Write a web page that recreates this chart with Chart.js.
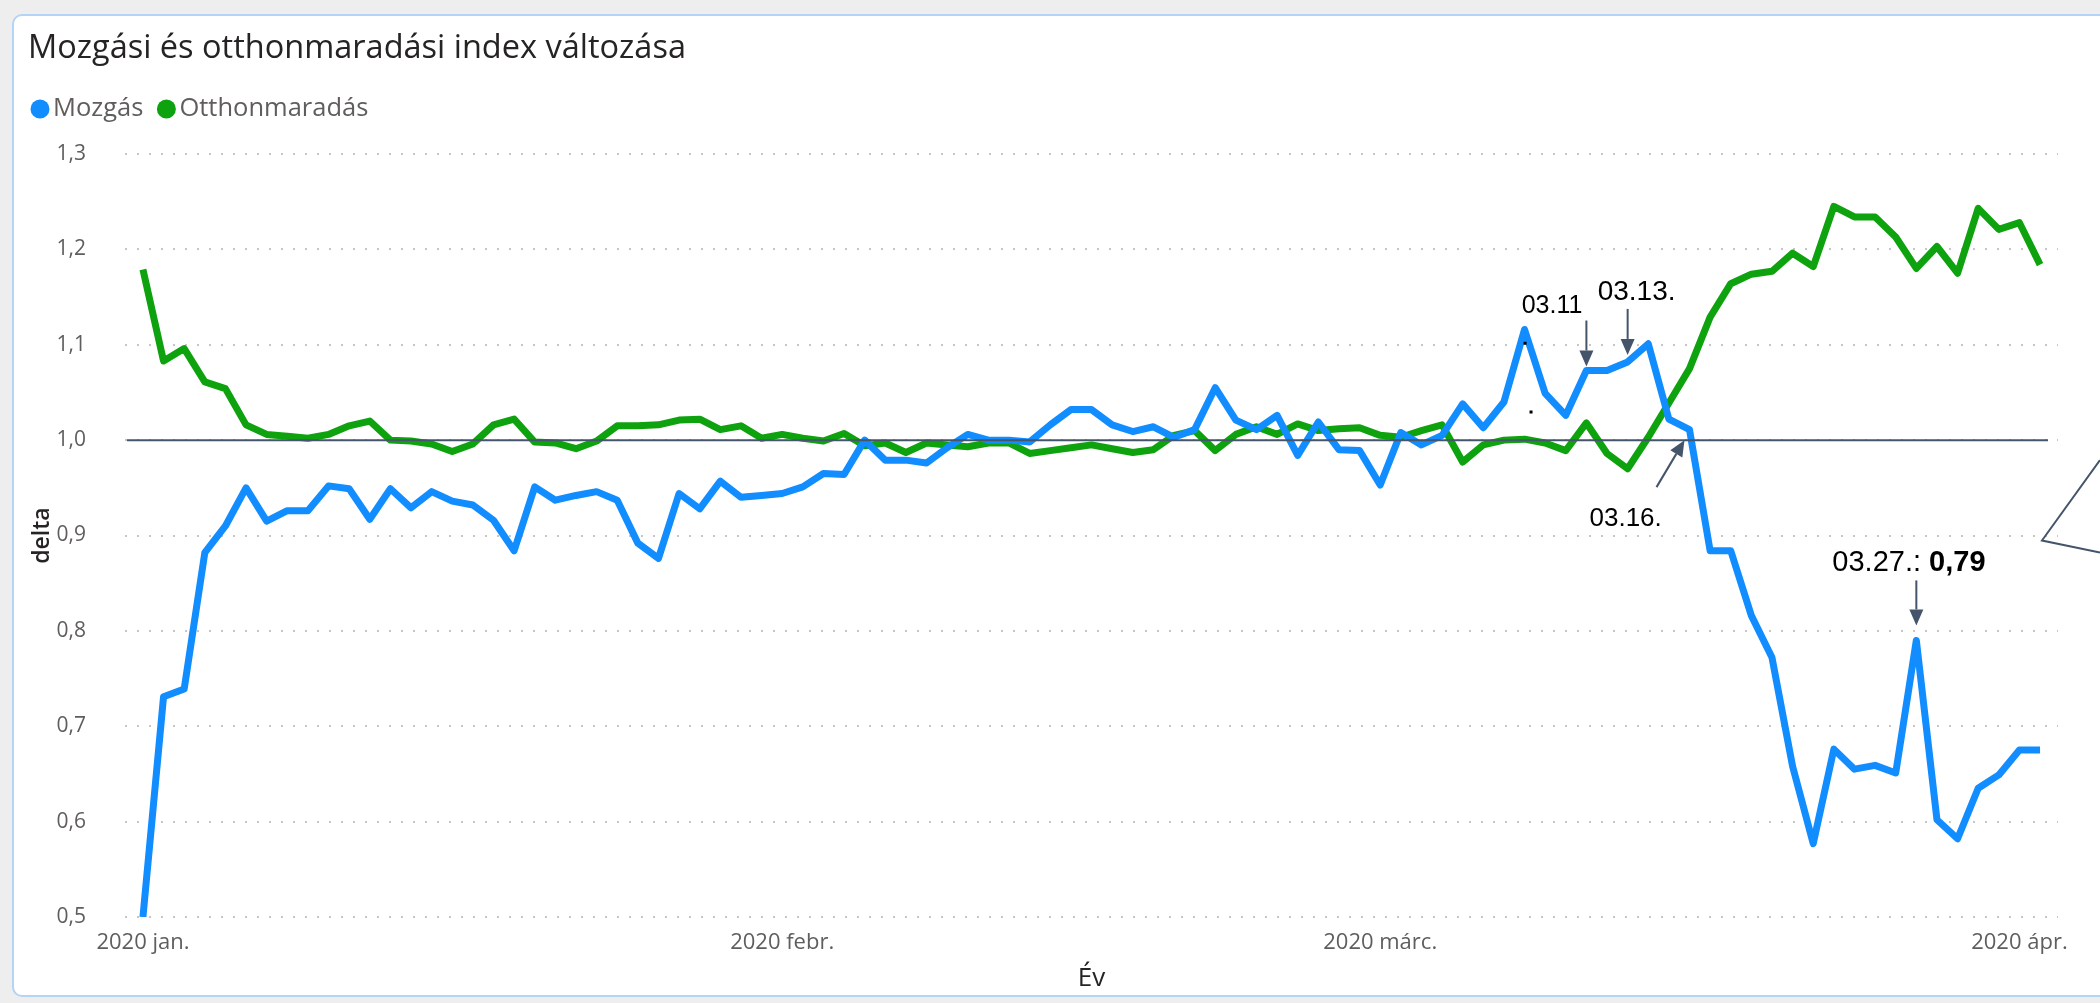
<!DOCTYPE html>
<html lang="hu">
<head>
<meta charset="utf-8">
<title>Mozgási és otthonmaradási index változása</title>
<script src="https://cdn.jsdelivr.net/npm/chart.js@4.4.1/dist/chart.umd.min.js"></script>
<style>
  html, body { margin: 0; padding: 0; background: #eeeeee; }
  body { width: 2100px; height: 1003px; position: relative; overflow: hidden; }
  .card {
    position: absolute; left: 12px; top: 14px; width: 2130px; height: 983px;
    background: #fff; border: 2px solid #b5d3f5; border-radius: 10px; box-sizing: border-box;
  }
  #chart { position: absolute; left: 0; top: 0; }
</style>
</head>
<body>
<div class="card"></div>
<canvas id="chart" width="2100" height="1003"></canvas>
<script>
// napi adatok 2020.01.01-tol 2020.04.02-ig
const honapok = ['2020 jan.', '2020 febr.', '2020 márc.', '2020 ápr.']
const honapHossz = [31, 29, 31, 2]

const mozgas = [
  0.500, 0.731, 0.739, 0.882, 0.910, 0.950, 0.915, 0.926, 0.926, 0.952,
  0.949, 0.917, 0.949, 0.929, 0.946, 0.936, 0.932, 0.916, 0.884, 0.951,
  0.937, 0.942, 0.946, 0.937, 0.892, 0.876, 0.944, 0.928, 0.957, 0.940,
  0.942, 0.944, 0.951, 0.965, 0.964, 1.000, 0.979, 0.979, 0.976, 0.992,
  1.006, 1.000, 1.000, 0.998, 1.016, 1.032, 1.032, 1.016, 1.009, 1.014,
  1.003, 1.011, 1.055, 1.021, 1.011, 1.026, 0.984, 1.019, 0.990, 0.989,
  0.953, 1.008, 0.995, 1.005, 1.038, 1.013, 1.040, 1.116, 1.049, 1.026,
  1.073, 1.073, 1.082, 1.101, 1.022, 1.011, 0.884, 0.884, 0.816, 0.772,
  0.658, 0.577, 0.676, 0.655, 0.659, 0.651, 0.790, 0.602, 0.582, 0.635,
  0.649, 0.675, 0.675
]

const otthon = [
  1.179, 1.083, 1.096, 1.061, 1.054, 1.016, 1.006, 1.004, 1.002, 1.006,
  1.015, 1.020, 1.000, 0.999, 0.996, 0.988, 0.996, 1.016, 1.022, 0.998,
  0.997, 0.991, 0.999, 1.015, 1.015, 1.016, 1.021, 1.022, 1.011, 1.015,
  1.002, 1.006, 1.002, 0.999, 1.007, 0.994, 0.997, 0.987, 0.997, 0.995,
  0.993, 0.997, 0.997, 0.986, 0.989, 0.992, 0.995, 0.991, 0.987, 0.990,
  1.005, 1.010, 0.989, 1.006, 1.014, 1.006, 1.017, 1.010, 1.012, 1.013,
  1.005, 1.003, 1.010, 1.016, 0.977, 0.995, 1.000, 1.001, 0.997, 0.989,
  1.018, 0.986, 0.970, 1.003, 1.039, 1.075, 1.129, 1.164, 1.174, 1.177,
  1.196, 1.182, 1.245, 1.234, 1.234, 1.213, 1.180, 1.203, 1.175, 1.243,
  1.221, 1.228, 1.184
]

const yTicks = [0.5, 0.6, 0.7, 0.8, 0.9, 1.0, 1.1, 1.2, 1.3]

// honapok elso napjanak sorszama
const honapKezdet = []
let nap = 0
honapHossz.forEach(h => { honapKezdet.push(nap); nap += h })

const toPoints = arr => arr.map((v, i) => ({ x: i, y: v }))

const fontUI = "'Segoe UI', 'Open Sans', sans-serif"
const fontNote = "'Liberation Sans', Arial, sans-serif"
const szurke = '#605e5c'
const sotet = '#252423'
const nyil = '#44546a'

const arrow = function (ctx, x1, y1, x2, y2) {
  const ang = Math.atan2(y2 - y1, x2 - x1)
  const len = 16, half = 7
  ctx.save()
  ctx.strokeStyle = nyil
  ctx.fillStyle = nyil
  ctx.lineWidth = 2
  ctx.beginPath()
  ctx.moveTo(x1, y1)
  ctx.lineTo(x2 - Math.cos(ang) * len, y2 - Math.sin(ang) * len)
  ctx.stroke()
  ctx.beginPath()
  ctx.moveTo(x2, y2)
  ctx.lineTo(x2 - Math.cos(ang) * len - Math.sin(ang) * half, y2 - Math.sin(ang) * len + Math.cos(ang) * half)
  ctx.lineTo(x2 - Math.cos(ang) * len + Math.sin(ang) * half, y2 - Math.sin(ang) * len - Math.cos(ang) * half)
  ctx.closePath()
  ctx.fill()
  ctx.restore()
}

const note = function (ctx, text, x, y, align, size) {
  ctx.save()
  ctx.font = size + 'px ' + fontNote
  ctx.fillStyle = '#000'
  ctx.textAlign = align || 'left'
  ctx.textBaseline = 'middle'
  ctx.fillText(text, x, y)
  ctx.restore()
}

// cim es jelmagyarazat
const fejlec = {
  id: 'fejlec',
  afterDraw(chart) {
    const ctx = chart.ctx
    ctx.save()
    ctx.textBaseline = 'middle'
    ctx.fillStyle = sotet
    ctx.font = '32.5px ' + fontUI
    ctx.fillText('Mozgási és otthonmaradási index változása', 28, 49)

    ctx.font = '25.5px ' + fontUI
    let x = 31
    chart.data.datasets.forEach(ds => {
      ctx.fillStyle = ds.borderColor
      ctx.beginPath()
      ctx.arc(x + 9, 109, 9.5, 0, Math.PI * 2)
      ctx.fill()
      ctx.fillStyle = szurke
      ctx.fillText(ds.label, x + 22, 109)
      x += 22 + ctx.measureText(ds.label).width + 14
    })
    ctx.restore()
  }
}

// 1,0-s vonal, nyilak es feliratok
const jelolesek = {
  id: 'jelolesek',
  afterDatasetsDraw(chart) {
    const ctx = chart.ctx
    const xs = chart.scales.x, ys = chart.scales.y
    const area = chart.chartArea
    const px = i => xs.getPixelForValue(i)
    const py = v => ys.getPixelForValue(v)

    ctx.save()
    ctx.strokeStyle = nyil
    ctx.lineWidth = 2
    ctx.beginPath()
    ctx.moveTo(area.left + 2, py(1.0))
    ctx.lineTo(area.right - 10, py(1.0))
    ctx.stroke()
    ctx.restore()

    // 03.11.
    let tip = py(mozgas[70]) - 4
    arrow(ctx, px(70), tip - 46, px(70), tip)
    note(ctx, '03.11', px(70) - 4, tip - 60, 'right', 25)

    // 03.13.
    tip = py(mozgas[72]) - 7
    arrow(ctx, px(72), tip - 46, px(72), tip)
    note(ctx, '03.13.', px(72) - 30, tip - 63, 'left', 28)

    // 03.16.
    arrow(ctx, px(75) - 33, py(1.0) + 47, px(75) - 5, py(1.0))
    note(ctx, '03.16.', px(75) - 100, py(1.0) + 79, 'left', 26)

    // 03.27.: 0,79
    tip = py(mozgas[86]) - 15
    arrow(ctx, px(86), tip - 45, px(86), tip)
    ctx.save()
    ctx.textBaseline = 'middle'
    ctx.fillStyle = '#000'
    ctx.font = '29px ' + fontNote
    const elo = '03.27.: '
    const tx = px(86) - 84, ty = tip - 62
    ctx.fillText(elo, tx, ty)
    const w = ctx.measureText(elo).width
    ctx.font = 'bold 29px ' + fontNote
    const ertek = mozgas[86].toFixed(2).replace('.', ',')
    ctx.fillText(ertek, tx + w, ty)

    // kimutato ek a jobb szelen
    ctx.strokeStyle = nyil
    ctx.lineWidth = 2
    ctx.beginPath()
    ctx.moveTo(chart.width, py(1.0) + 20)
    ctx.lineTo(area.right - 16, py(0.9) + 5)
    ctx.lineTo(chart.width, py(0.9) + 17)
    ctx.stroke()

    // apro pontok a csucs mellett
    ctx.fillStyle = '#000'
    ctx.fillRect(px(67) - 1, py(1.1) - 3, 3, 3)
    ctx.fillRect(px(67) + 5, py(1.03) - 1, 3, 3)
    ctx.restore()
  }
}

const canvas = document.getElementById('chart')
new Chart(canvas, {
  type: 'line',
  data: {
    datasets: [{
      label: 'Mozgás',
      data: toPoints(mozgas),
      borderColor: '#118dff',
      borderWidth: 7,
      pointRadius: 0,
      tension: 0,
      borderJoinStyle: 'round'
    }, {
      label: 'Otthonmaradás',
      data: toPoints(otthon),
      borderColor: '#0ea20e',
      borderWidth: 7,
      pointRadius: 0,
      tension: 0,
      borderJoinStyle: 'round'
    }]
  },
  options: {
    responsive: false,
    animation: false,
    events: [],
    layout: { padding: { left: 14, right: 42, top: 154, bottom: 0 } },
    plugins: {
      legend: { display: false },
      title: { display: false },
      tooltip: { enabled: false }
    },
    scales: {
      x: {
        type: 'linear',
        min: -0.87,
        max: 92.87,
        afterFit: scale => { scale.height = 86 },
        afterBuildTicks: scale => { scale.ticks = honapKezdet.map(v => ({ value: v })) },
        grid: { display: false, drawTicks: false },
        border: { display: false },
        ticks: {
          padding: 13,
          autoSkip: false,
          maxRotation: 0,
          color: szurke,
          font: { family: fontUI, size: 22 },
          callback: v => honapok[honapKezdet.indexOf(v)]
        },
        title: {
          display: true,
          text: 'Év',
          color: sotet,
          font: { family: fontUI, size: 26 },
          padding: { top: 0, bottom: 9 }
        }
      },
      y: {
        min: 0.5,
        max: 1.3,
        afterFit: scale => { scale.width = 111 },
        afterBuildTicks: scale => { scale.ticks = yTicks.map(v => ({ value: v })) },
        grid: { color: '#c8c6c4', lineWidth: 2, drawTicks: false },
        border: { display: false, dash: [2, 10] },
        ticks: {
          padding: 39,
          color: szurke,
          font: { family: fontUI, size: 21 },
          callback: v => v.toFixed(1).replace('.', ',')
        },
        title: {
          display: true,
          text: 'delta',
          color: sotet,
          font: { family: fontUI, size: 23, weight: '600' },
          padding: { top: 15, bottom: 0 }
        }
      }
    }
  },
  plugins: [fejlec, jelolesek]
})
</script>
</body>
</html>
